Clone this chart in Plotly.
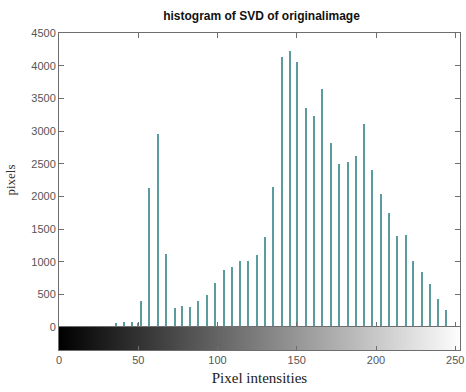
import numpy as np
import plotly.graph_objects as go

# Histogram stems
intensity = [36.4, 41.3, 46.5, 50.2, 51.7, 57.1, 62.5, 67.7, 73.1, 77.7, 82.9, 88.1,
             93.6, 98.75, 104.2, 109.4, 114.4, 119.6, 124.8, 130.0, 135.2, 140.6,
             145.6, 150.4, 155.8, 161.0, 166.4, 171.7, 177.0, 182.5, 187.3, 192.7,
             197.7, 203.0, 208.1, 213.6, 218.9, 223.75, 228.9, 234.2, 239.4, 244.6]
counts = [55, 80, 75, 60, 400, 2130, 2950, 1110, 290, 320, 310, 400,
          490, 670, 880, 920, 1010, 1010, 1100, 1380, 2140, 4130,
          4230, 4060, 3350, 3230, 3640, 2810, 2495, 2525, 2625, 3100,
          2410, 2035, 1750, 1400, 1415, 1015, 840, 660, 430, 260]

x_ticks = [0, 50, 100, 150, 200, 250]
y_ticks = [0, 500, 1000, 1500, 2000, 2500, 3000, 3500, 4000, 4500]
gray_levels = np.arange(256)

title_text = "histogram of SVD of originalimage"
xlabel = "Pixel intensities"
ylabel = "pixels"

XR = [0, 253]
axis_col = "#6e6e6e"
tick_font = dict(family="Liberation Sans, Arial", size=11, color="#555555")

fig = go.Figure()
fig.add_trace(go.Bar(x=intensity, y=counts, width=0.95,
                     marker=dict(color="#5a9c9d", line=dict(width=0)),
                     xaxis="x", yaxis="y", showlegend=False))
fig.add_trace(go.Heatmap(z=[gray_levels], x=gray_levels, y=[0],
                         colorscale=[[0, "black"], [1, "white"]],
                         showscale=False, xaxis="x2", yaxis="y2", hoverinfo="skip"))

dom = 23 / 317
fig.update_layout(
    width=466, height=392,
    margin=dict(l=59, r=2, t=33, b=42),
    paper_bgcolor="white", plot_bgcolor="white",
    bargap=0,
    title=dict(text=f"<b>{title_text}</b>", x=(59 + 464) / 2 / 466, xanchor="center",
               y=1 - 16 / 392, yanchor="middle",
               font=dict(family="Liberation Sans, Arial", size=12, color="#111111")),
    xaxis=dict(range=XR, domain=[0, 1], anchor="y", showticklabels=False,
               tickvals=x_ticks, ticks="inside", ticklen=5, tickcolor=axis_col,
               showline=True, linecolor=axis_col, linewidth=1, mirror="ticks",
               showgrid=False, zeroline=False),
    yaxis=dict(range=[0, 4500], domain=[dom, 1], anchor="x",
               tickvals=y_ticks, ticks="inside", ticklen=5, tickcolor=axis_col,
               showline=True, linecolor=axis_col, linewidth=1, mirror="ticks",
               showgrid=False, zeroline=False, tickfont=tick_font,
               title=dict(text=ylabel, standoff=12,
                          font=dict(family="Liberation Serif, Times New Roman", size=13,
                                    color="#333333"))),
    xaxis2=dict(range=XR, domain=[0, 1], anchor="y2",
                tickvals=x_ticks, ticks="inside", ticklen=4, tickcolor=axis_col,
                showline=True, linecolor=axis_col, linewidth=1, mirror=True,
                showgrid=False, zeroline=False, tickfont=tick_font,
                ticklabeloverflow="allow",
                title=dict(text=xlabel, standoff=7,
                           font=dict(family="Liberation Serif, Times New Roman", size=15,
                                     color="#222222"))),
    yaxis2=dict(range=[-0.5, 0.5], domain=[0, dom], anchor="x2",
                showticklabels=False, ticks="", showgrid=False, zeroline=False,
                showline=True, linecolor=axis_col, mirror=True),
)

fig.write_html("out.html")
